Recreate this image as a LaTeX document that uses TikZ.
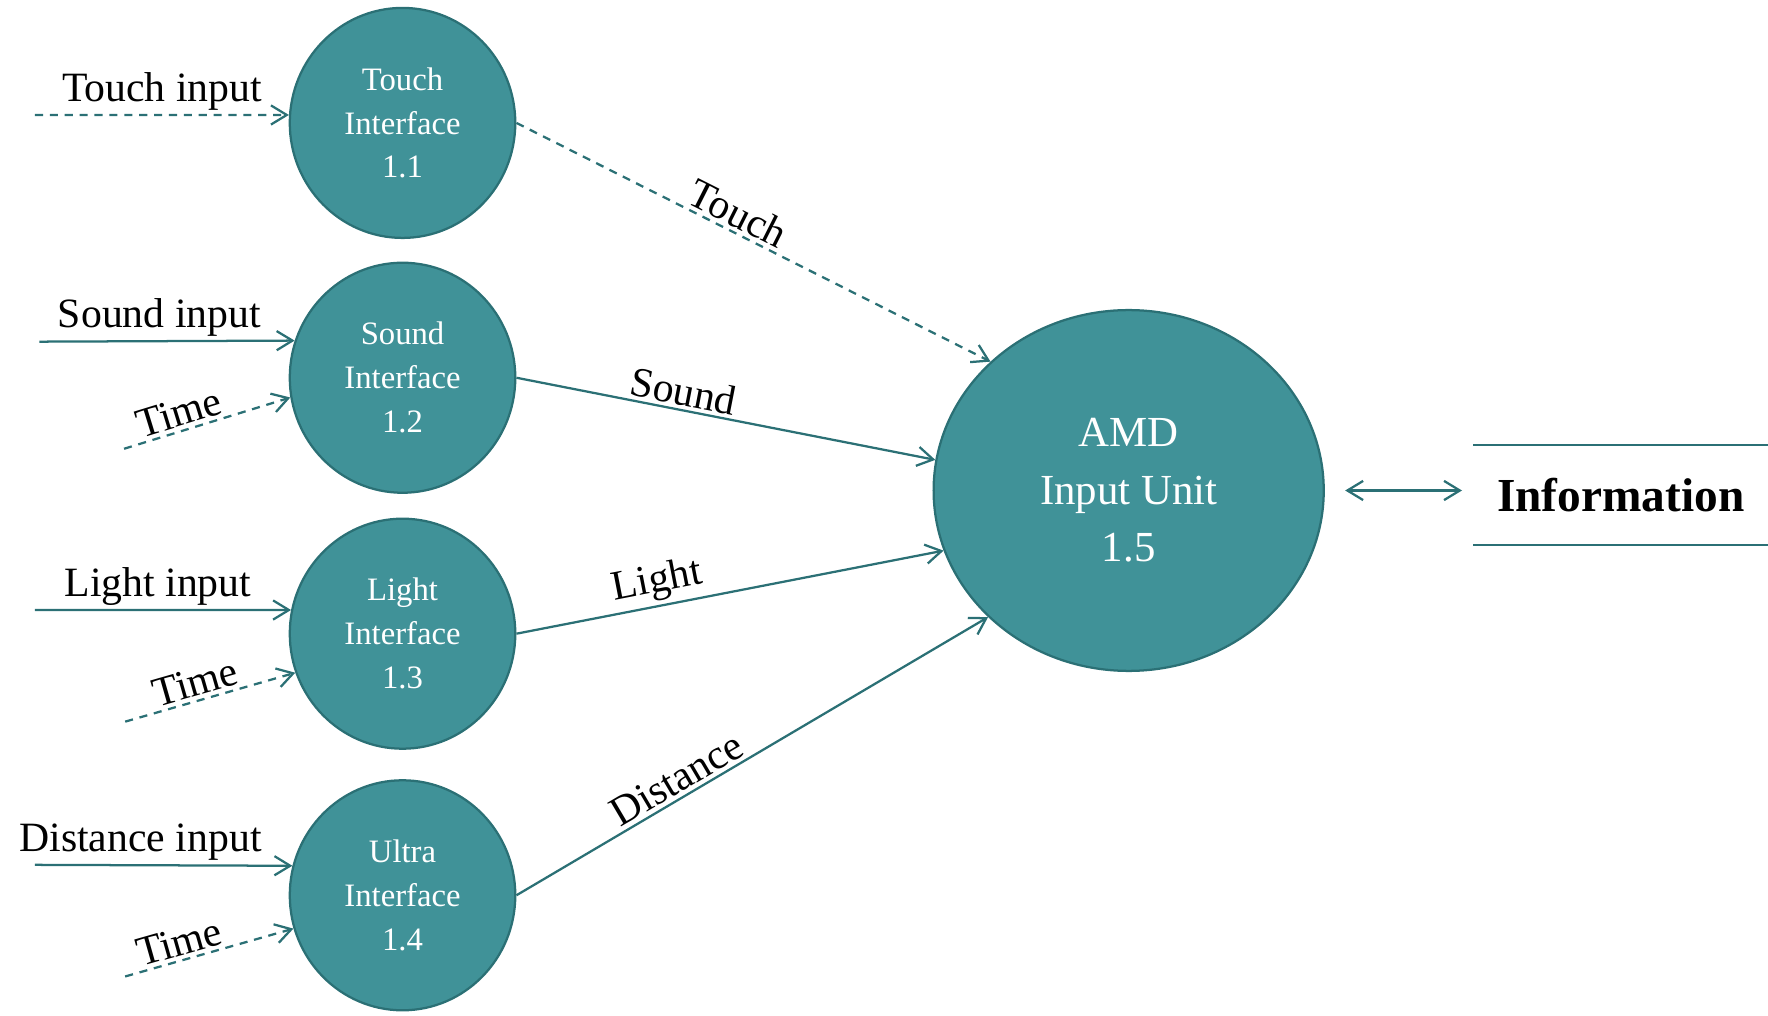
\documentclass[tikz,border=0pt]{standalone}
\usepackage{fontspec}
\setmainfont{Liberation Serif}
\usetikzlibrary{arrows.meta,shapes.geometric}
\definecolor{dfdfill}{RGB}{64,146,152}
\definecolor{dfdline}{RGB}{43,112,117}

\begin{document}
\begin{tikzpicture}[x=0.5pt,y=-0.5pt,
    >={Straight Barb[length=7pt,width=8.5pt]},
    proc/.style={ellipse, draw=dfdline, line width=1pt, fill=dfdfill, text=white,
        align=center, inner sep=0pt, minimum width=100pt, minimum height=102pt,
        font=\fontsize{14.5}{19.5}\selectfont},
    flow/.style={draw=dfdline, line width=1pt, ->},
    soft/.style={flow, dash pattern=on 3.6pt off 3pt},
    lbl/.style={font=\fontsize{18.5}{20}\selectfont, inner sep=1.5pt}]
    \useasboundingbox (0,0) rectangle (1568,901);

    % interfaces
    \node[proc] (touch) at (357,109) {Touch\\Interface\\1.1};
    \node[proc] (sound) at (357,335) {Sound\\Interface\\1.2};
    \node[proc] (light) at (357,562) {Light\\Interface\\1.3};
    \node[proc] (ultra) at (357,794) {Ultra\\Interface\\1.4};

    % input unit
    \node[proc, minimum width=173pt, minimum height=160pt,
        font=\fontsize{19}{25.5}\selectfont] (amd) at (1001,435)
    {AMD\\Input Unit\\1.5};

    % information store
    \node[font=\fontsize{21}{24}\selectfont\bfseries, minimum width=130.5pt,
        minimum height=44pt] (info) at (1437.5,439) {Information};
    \draw[dfdline, line width=1pt] (info.north west) -- (info.north east)
        (info.south west) -- (info.south east);

    % outside sources
    \coordinate (touchsrc) at (31,102);
    \coordinate (soundsrc) at (35,303);
    \coordinate (soundclk) at (110,398);
    \coordinate (lightsrc) at (31,541);
    \coordinate (lightclk) at (111,640);
    \coordinate (ultrasrc) at (31,767);
    \coordinate (ultraclk) at (111,866);

    \draw[soft] (touchsrc) -- node[lbl, above] {Touch input} (touch.176);
    \draw[flow] (soundsrc) -- node[lbl, above, pos=0.47] {Sound input} (sound.161);
    \draw[soft] (soundclk) -- node[lbl, above, sloped, pos=0.36] {Time} (sound.190);
    \draw[flow] (lightsrc) -- node[lbl, above, pos=0.48] {Light input} (light.168);
    \draw[soft] (lightclk) -- node[lbl, above, sloped, pos=0.44] {Time} (light.200);
    \draw[flow] (ultrasrc) -- node[lbl, above, pos=0.41] {Distance input} (ultra.165);
    \draw[soft] (ultraclk) -- node[lbl, above, sloped, pos=0.35] {Time} (ultra.197);

    % flows to the input unit
    \draw[soft] (touch.east) -- node[lbl, above, sloped, pos=0.45] {Touch} (amd.137);
    \draw[flow] (sound.east) -- node[lbl, above, sloped, pos=0.39] {Sound} (amd.171);
    \draw[flow] (light.east) -- node[lbl, above, sloped, pos=0.34] {Light} (amd.198);
    \draw[flow] (ultra.east) -- node[lbl, above, sloped, pos=0.36] {Distance} (amd.222);

    \draw[flow, <->, shorten <=9pt, shorten >=5pt] (amd.east) -- (amd.east -| info.west);
\end{tikzpicture}
\end{document}
